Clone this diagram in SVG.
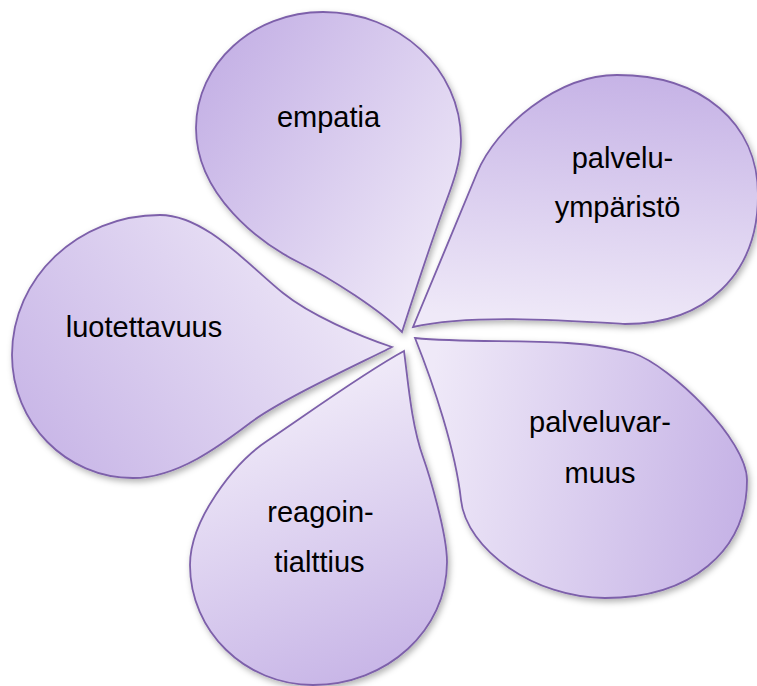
<svg xmlns="http://www.w3.org/2000/svg" width="757" height="686" viewBox="0 0 757 686">
<style>
.petal{stroke:#7d60aa;stroke-width:1.8;stroke-linejoin:miter;filter:url(#sh)}
.lbl{font-family:"Liberation Sans",Arial,sans-serif;font-size:29px;fill:#000;text-anchor:middle}
</style>
<defs>
<filter id="sh" x="-10%" y="-10%" width="125%" height="125%">
<feDropShadow dx="2" dy="3" stdDeviation="3" flood-color="#000" flood-opacity="0.3"/>
</filter>
<linearGradient id="gE" gradientUnits="userSpaceOnUse" x1="197" y1="100" x2="455" y2="270">
<stop offset="0" stop-color="#c6b3e6"/><stop offset="1" stop-color="#efe9f8"/></linearGradient>
<linearGradient id="gP" gradientUnits="userSpaceOnUse" x1="620" y1="75" x2="600" y2="327">
<stop offset="0" stop-color="#c6b3e6"/><stop offset="1" stop-color="#efe9f8"/></linearGradient>
<linearGradient id="gV" gradientUnits="userSpaceOnUse" x1="747" y1="470" x2="425" y2="420">
<stop offset="0" stop-color="#c6b3e6"/><stop offset="1" stop-color="#efe9f8"/></linearGradient>
<linearGradient id="gL" gradientUnits="userSpaceOnUse" x1="25" y1="470" x2="340" y2="240">
<stop offset="0" stop-color="#c6b3e6"/><stop offset="1" stop-color="#efe9f8"/></linearGradient>
<linearGradient id="gR" gradientUnits="userSpaceOnUse" x1="400" y1="680" x2="290" y2="400">
<stop offset="0" stop-color="#c6b3e6"/><stop offset="1" stop-color="#efe9f8"/></linearGradient>
</defs>
<g id="connectors"/>
<g id="node-empatia">
<path class="petal" fill="url(#gE)" d="M402,332 C380.8,310.8 331.4,278.5 300,263 C259.6,243.1 196,195 196,128 C196,64 253,12 323,12 C399,12 461,69 461,140 C461,165 449.8,191.2 443,210 C432.8,238.2 411.2,303.4 402,332 Z"/>
<text class="lbl" x="328.5" y="127">empatia</text>
</g>
<g id="node-palveluymparisto">
<path class="petal" fill="url(#gP)" d="M413,327 C432.2,280.9 457.8,219.2 477,173 C496,127 557,75 617,75 C702,75 758,123 758,195 C758,275 705,324 625,324 C560,320 470,314 413,327 Z"/>
<text class="lbl" x="622.5" y="168">palvelu-</text>
<text class="lbl" x="617.5" y="216.5">ympäristö</text>
</g>
<g id="node-palveluvarmuus">
<path class="petal" fill="url(#gV)" d="M415,338 C485,345 567,335 633,353 C671,366 747,440 747,480 C747,552 690,598 605,598 C535,598 466.4,549.7 461,500 C455.6,450.3 433.6,384.4 415,338 Z"/>
<text class="lbl" x="600" y="431.5">palveluvar-</text>
<text class="lbl" x="600" y="483">muus</text>
</g>
<g id="node-luotettavuus">
<path class="petal" fill="url(#gL)" d="M392,347 C358.8,335.9 310.2,315 283,293 C248,264.7 205,215 160,215 C78,215 12,278 12,355 C12,423 66,478 133,478 C178,478 222.1,444.1 250,423 C281.9,398.8 365.4,360.8 392,347 Z"/>
<text class="lbl" x="144" y="336.5">luotettavuus</text>
</g>
<g id="node-reagointialttius">
<path class="petal" fill="url(#gR)" d="M404,351 C364.4,372.4 304.4,416 267,441 C233.7,463.2 190,520 190,565 C190,631 245,685 313,685 C387,685 447,630 447,562 C447,532 428,471 423,457 C411.2,424 408,380.7 404,351 Z"/>
<text class="lbl" x="320.5" y="521.5">reagoin-</text>
<text class="lbl" x="319.5" y="571.5">tialttius</text>
</g>
</svg>
